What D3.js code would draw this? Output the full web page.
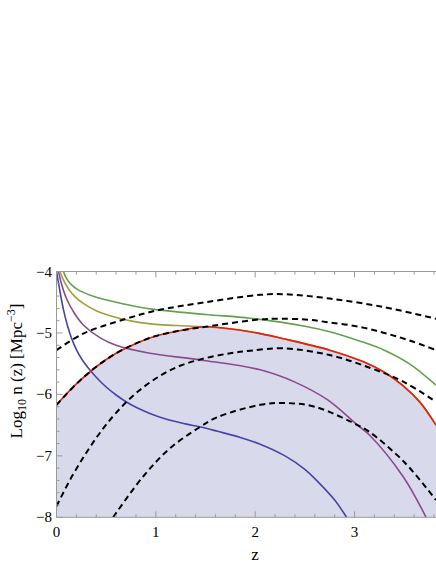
<!DOCTYPE html>
<html>
<head>
<meta charset="utf-8">
<script src="https://cdn.jsdelivr.net/npm/d3@7"></script>
<style>
  body { margin: 0; background: #fff; }
  svg { display: block; }
  text { font-family: "Liberation Serif", "DejaVu Serif", serif; fill: #000; }
</style>
</head>
<body>
<div id="chart"></div>
<script>
// set the dimensions of the picture
const width = 436
const height = 564

// curves: redshift z and log10 n(z)
const zBlue = [0, 0.03, 0.07, 0.11, 0.15, 0.2, 0.26, 0.32, 0.4, 0.5, 0.6, 0.7, 0.8, 0.94, 1.1, 1.3, 1.45, 1.62, 1.85, 2.05, 2.3, 2.5, 2.63, 2.8, 2.92]
const yBlue = [-4, -4.28, -4.62, -4.88, -5.08, -5.27, -5.44, -5.57, -5.72, -5.88, -6.01, -6.12, -6.21, -6.31, -6.4, -6.48, -6.53, -6.6, -6.7, -6.81, -7.0, -7.22, -7.42, -7.72, -8]

const zPurple = [0.02, 0.05, 0.1, 0.18, 0.27, 0.44, 0.6, 0.94, 1.45, 2.05, 2.4, 2.73, 3.03, 3.15, 3.49, 3.72]
const yPurple = [-4, -4.2, -4.44, -4.68, -4.87, -5.08, -5.2, -5.33, -5.44, -5.6, -5.8, -6.09, -6.5, -6.66, -7.34, -8]

const zGreen = [0.07, 0.09, 0.12, 0.16, 0.21, 0.27, 0.4, 0.6, 0.8, 1.0, 1.5, 1.95, 2.5, 2.75, 3.05, 3.3, 3.55, 3.82]
const yGreen = [-4, -4.08, -4.16, -4.23, -4.29, -4.34, -4.42, -4.5, -4.57, -4.62, -4.7, -4.76, -4.89, -4.98, -5.13, -5.28, -5.5, -5.85]

const zOlive = [0.035, 0.07, 0.12, 0.18, 0.27, 0.4, 0.6, 0.8, 1.0, 1.2, 1.5, 1.95, 2.3, 2.75, 3.09, 3.3, 3.49, 3.66, 3.82]
const yOlive = [-4, -4.14, -4.28, -4.4, -4.52, -4.64, -4.75, -4.82, -4.86, -4.88, -4.9, -4.98, -5.1, -5.28, -5.47, -5.64, -5.86, -6.13, -6.5]

const zRed = [0, 0.2, 0.4, 0.6, 0.8, 1.0, 1.25, 1.5, 1.95, 2.3, 2.75, 3.09, 3.3, 3.49, 3.66, 3.82]
const yRed = [-6.17, -5.83, -5.55, -5.33, -5.17, -5.05, -4.96, -4.9, -4.98, -5.1, -5.28, -5.47, -5.64, -5.86, -6.13, -6.5]

// dashed reference curves
const zDash1 = [0, 0.27, 0.7, 1.02, 1.5, 2.05, 2.3, 2.75, 3.3, 3.82]
const yDash1 = [-5.28, -5.01, -4.77, -4.63, -4.5, -4.38, -4.37, -4.44, -4.58, -4.77]

const zDash2 = [0, 0.2, 0.4, 0.6, 0.8, 1.0, 1.25, 1.5, 1.75, 2.05, 2.2, 2.5, 2.75, 3.05, 3.3, 3.55, 3.82]
const yDash2 = [-6.17, -5.83, -5.55, -5.33, -5.17, -5.05, -4.96, -4.9, -4.84, -4.78, -4.77, -4.78, -4.83, -4.9, -5.0, -5.12, -5.28]

const zDash3 = [0, 0.15, 0.3, 0.44, 0.6, 0.8, 1.04, 1.25, 1.5, 1.75, 1.95, 2.28, 2.75, 3.16, 3.5, 3.82]
const yDash3 = [-7.82, -7.35, -6.95, -6.62, -6.3, -5.98, -5.7, -5.53, -5.41, -5.33, -5.29, -5.25, -5.36, -5.57, -5.8, -6.12]

const zDash4 = [0.57, 0.87, 1.14, 1.445, 1.62, 2.05, 2.3, 2.6, 3.03, 3.15, 3.5, 3.82]
const yDash4 = [-8, -7.34, -6.88, -6.53, -6.37, -6.17, -6.14, -6.2, -6.5, -6.61, -7.1, -7.72]

const xTicks = [0, 1, 2, 3]
const yTicks = [-4, -5, -6, -7, -8]

const toPts = (zs, ys) => zs.map((z, i) => [z, ys[i]])

const x = d3.scaleLinear().domain([0, 3.82]).range([56.5, 436])
const y = d3.scaleLinear().domain([-8, -4]).range([517.3, 271.5])

const svg = d3.select("#chart")
  .append("svg")
    .attr("width", width)
    .attr("height", height)

svg.append("clipPath").attr("id", "plot")
  .append("rect")
    .attr("x", x(0)).attr("y", y(-4))
    .attr("width", x(3.82) - x(0)).attr("height", y(-8) - y(-4))

const g = svg.append("g").attr("clip-path", "url(#plot)")

const smooth = d3.curveCatmullRom.alpha(0.5)

const line = d3.line()
  .x(d => x(d[0]))
  .y(d => y(d[1]))
  .curve(smooth)

// shaded region under the red curve
g.append("path")
  .datum(toPts(zRed, yRed))
  .attr("fill", "#d9d9ec")
  .attr("d", d3.area()
    .x(d => x(d[0]))
    .y0(y(-8))
    .y1(d => y(d[1]))
    .curve(smooth))

const solid = [
  [zBlue, yBlue, "#4545a8"],
  [zPurple, yPurple, "#8a4a8c"],
  [zGreen, yGreen, "#64a050"],
  [zOlive, yOlive, "#a2a03c"],
  [zRed, yRed, "#e8200c"]
]
solid.forEach(([zs, ys, c]) => {
  g.append("path")
    .datum(toPts(zs, ys))
    .attr("fill", "none")
    .attr("stroke", c)
    .attr("stroke-width", 1.6)
    .attr("d", line)
})

const dashed = [[zDash1, yDash1], [zDash2, yDash2], [zDash3, yDash3], [zDash4, yDash4]]
dashed.forEach(([zs, ys]) => {
  g.append("path")
    .datum(toPts(zs, ys))
    .attr("fill", "none")
    .attr("stroke", "#000")
    .attr("stroke-width", 2)
    .attr("stroke-dasharray", "6,4")
    .attr("d", line)
})

// frame with inward ticks
const frame = svg.append("g").attr("stroke", "#9a9a9a").attr("stroke-width", 1)
frame.append("line").attr("x1", x(0)).attr("x2", width).attr("y1", y(-4)).attr("y2", y(-4))
frame.append("line").attr("x1", x(0)).attr("x2", width).attr("y1", y(-8)).attr("y2", y(-8))
frame.append("line").attr("x1", x(0)).attr("x2", x(0)).attr("y1", y(-4)).attr("y2", y(-8))

const xMinor = d3.range(0, 3.81, 0.2)
xMinor.forEach(v => {
  const major = Math.abs(v - Math.round(v)) < 1e-6
  const len = major ? 6 : 3
  frame.append("line").attr("x1", x(v)).attr("x2", x(v)).attr("y1", y(-8)).attr("y2", y(-8) - len)
  frame.append("line").attr("x1", x(v)).attr("x2", x(v)).attr("y1", y(-4)).attr("y2", y(-4) + len)
})
const yMinor = d3.range(-8, -3.99, 0.2)
yMinor.forEach(v => {
  const major = Math.abs(v - Math.round(v)) < 1e-6
  const len = major ? 6 : 3
  frame.append("line").attr("x1", x(0)).attr("x2", x(0) + len).attr("y1", y(v)).attr("y2", y(v))
})

svg.append("g").selectAll("text")
  .data(xTicks)
  .join("text")
    .attr("x", d => x(d))
    .attr("y", 537)
    .attr("text-anchor", "middle")
    .style("font-size", "15px")
    .text(d => d)

svg.append("g").selectAll("text")
  .data(yTicks)
  .join("text")
    .attr("x", 52)
    .attr("y", d => y(d) + 5)
    .attr("text-anchor", "end")
    .style("font-size", "15px")
    .text(d => "\u2212" + Math.abs(d))

svg.append("text")
  .attr("x", 255)
  .attr("y", 560)
  .attr("text-anchor", "middle")
  .style("font-size", "17px")
  .text("z")

const yl = svg.append("text")
  .attr("transform", "translate(22,371) rotate(-90)")
  .attr("text-anchor", "middle")
  .style("font-size", "17px")
yl.append("tspan").text("Log")
yl.append("tspan").attr("dy", 4).style("font-size", "12px").text("10")
yl.append("tspan").attr("dy", -4).text(" n (z) [Mpc")
yl.append("tspan").attr("dy", -7).style("font-size", "12px").text("\u22123")
yl.append("tspan").attr("dy", 7).text("]")
</script>
</body>
</html>
